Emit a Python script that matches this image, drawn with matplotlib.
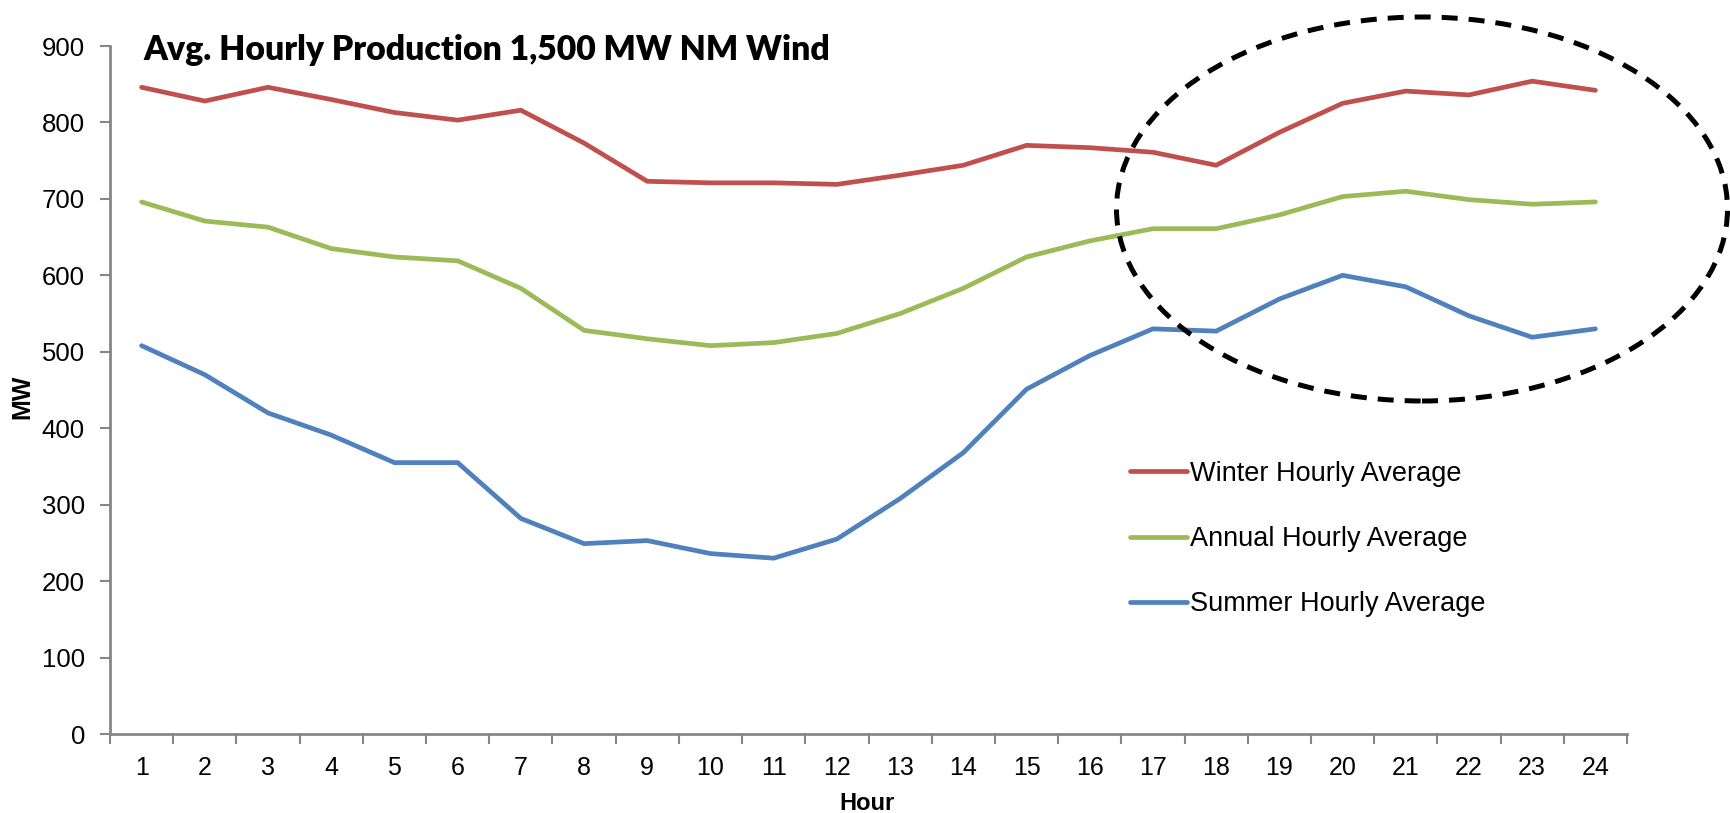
import matplotlib
matplotlib.use("Agg")
import matplotlib.pyplot as plt
from matplotlib.patches import Ellipse

hours = list(range(1, 25))
hour_labels = [str(h) for h in hours]
winter = [846, 828, 846, 830, 813, 803, 816, 773, 723, 721, 721, 719,
          731, 744, 770, 767, 761, 744, 787, 825, 841, 836, 854, 842]
annual = [696, 671, 663, 635, 624, 619, 583, 528, 517, 508, 512, 524,
          550, 583, 624, 645, 661, 661, 679, 703, 710, 699, 693, 696]
summer = [508, 470, 420, 391, 355, 355, 282, 249, 253, 236, 230, 255,
          308, 368, 451, 495, 530, 527, 569, 600, 585, 547, 519, 530]
series_names = ["Winter Hourly Average", "Annual Hourly Average", "Summer Hourly Average"]
colors = ["#C0504D", "#9BBB59", "#4F81BD"]
yticks = [0, 100, 200, 300, 400, 500, 600, 700, 800, 900]
title = "Avg. Hourly Production 1,500 MW NM Wind"

W, H = 1730, 813
fig = plt.figure(figsize=(W / 100, H / 100), dpi=100)
ax = fig.add_axes([110 / W, 1 - 734 / H, (1627 - 110) / W, (734 - 46) / H])

font = "Liberation Sans"
for name, vals, c in zip(series_names, [winter, annual, summer], colors):
    ax.plot(hours, vals, color=c, lw=3.4, label=name, solid_capstyle="round",
            solid_joinstyle="miter")

ax.set_xlim(0.5, 24.5)
ax.set_ylim(0, 900)
ax.set_yticks(yticks)
ax.set_yticklabels([str(v) for v in yticks], fontfamily=font, fontsize=18.5)
ax.set_xticks(hours)
ax.set_xticklabels(hour_labels, fontfamily=font, fontsize=18)
ax.set_xticks([h + 0.5 for h in [0] + hours], minor=True)
ax.tick_params(axis="x", which="major", length=0, pad=16)
ax.tick_params(axis="x", which="minor", length=7, width=1.5, color="#868686", direction="out")
ax.tick_params(axis="y", length=7, width=1.5, color="#868686", pad=11)
for s in ["top", "right"]:
    ax.spines[s].set_visible(False)
for s in ["left", "bottom"]:
    ax.spines[s].set_color("#868686")
    ax.spines[s].set_linewidth(2)

fig.text(867 / W, 1 - 803 / H, "Hour", fontfamily=font, fontsize=17, fontweight="bold",
         ha="center", va="center")
fig.text(22 / W, 1 - 397 / H, "MW", fontfamily=font, fontsize=18, fontweight="bold",
         ha="center", va="center", rotation=90)

fig.text(143 / W, 1 - 50 / H, title, fontfamily="Lato", fontweight="heavy",
         fontsize=24.3, va="center", ha="left")

leg = ax.legend(loc="center left", bbox_to_anchor=(1130 / W, 1 - 539 / H),
                bbox_transform=fig.transFigure, frameon=False, prop={"family": font, "size": 19.5},
                handlelength=2.1, handletextpad=0.1, labelspacing=1.45, borderpad=0,
                borderaxespad=0)

ell = Ellipse((1422 / W, 1 - 209 / H), 611 / W, 384 / H, transform=fig.transFigure,
              fill=False, edgecolor="black", lw=3.6, linestyle=(0, (3.2, 2.2)), clip_on=False)
fig.patches.append(ell)

fig.savefig("out.png", dpi=100)
